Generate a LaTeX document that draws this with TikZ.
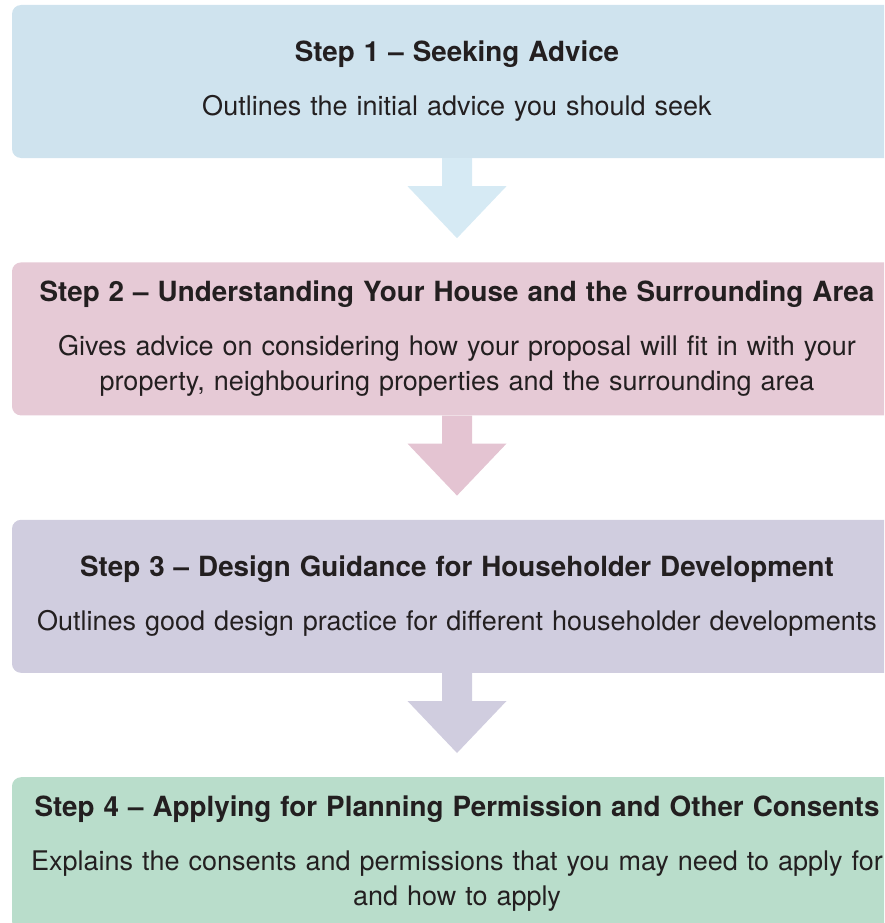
\documentclass[tikz,border=0pt]{standalone}
\usepackage{fontspec}
\setmainfont{TeX Gyre Heros}
\usetikzlibrary{positioning,calc}

\definecolor{boxA}{HTML}{CFE3EE}
\definecolor{arrowA}{HTML}{D6EAF4}
\definecolor{boxB}{HTML}{E6CAD6}
\definecolor{arrowB}{HTML}{E4C4D2}
\definecolor{boxC}{HTML}{D0CDDF}
\definecolor{arrowC}{HTML}{D0CDDF}
\definecolor{boxD}{HTML}{B9DDCB}
\definecolor{inktext}{HTML}{231F20}

\newcommand{\steptitle}[1]{{\fontsize{27.8}{35}\selectfont\bfseries #1}}

\begin{document}
\begin{tikzpicture}[
    x=1pt, y=-1pt,
    stepbox/.style={rectangle, rounded corners=9pt, minimum width=890pt, minimum height=153pt,
        text width=870pt, inner sep=10pt, align=center, text=inktext,
        font=\fontsize{27}{35}\selectfont}
]

\useasboundingbox (0,0) rectangle (884,923);
\clip (0,0) rectangle (884,923);

% Steps
\node[stepbox, fill=boxA] (stepone) at (457,81.5)
    {\steptitle{Step 1 – Seeking Advice}\\[19pt]
     Outlines the initial advice you should seek};
\node[stepbox, fill=boxB, below=104pt of stepone] (steptwo)
    {\steptitle{Step 2 – Understanding Your House and the Surrounding Area}\\[19pt]
     Gives advice on considering how your proposal will fit in with your\\
     property, neighbouring properties and the surrounding area};
\node[stepbox, fill=boxC, below=104pt of steptwo] (stepthree)
    {\steptitle{Step 3 – Design Guidance for Householder Development}\\[19pt]
     Outlines good design practice for different householder developments};
\node[stepbox, fill=boxD, below=104pt of stepthree] (stepfour)
    {\steptitle{Step 4 – Applying for Planning Permission and Other Consents}\\[19pt]
     Explains the consents and permissions that you may need to apply for\\
     and how to apply};

% Arrows
\foreach \from/\to/\col in {stepone/steptwo/arrowA, steptwo/stepthree/arrowB, stepthree/stepfour/arrowC}
    \fill[\col] ($(\from.south)+(-15,0)$) -- ($(\from.south)+(-15,28)$) -- ($(\from.south)+(-49.5,28)$)
        -- ($(\to.north)+(0,-24)$) -- ($(\from.south)+(49.5,28)$) -- ($(\from.south)+(15,28)$)
        -- ($(\from.south)+(15,0)$) -- cycle;

\end{tikzpicture}
\end{document}
